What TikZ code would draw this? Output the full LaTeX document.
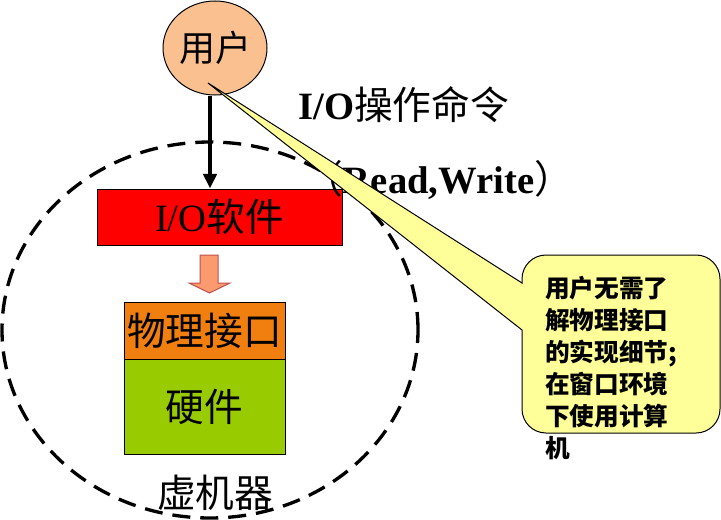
\documentclass[tikz,border=0pt]{standalone}
\usepackage{fontspec}
\setmainfont{Liberation Serif}
\newfontfamily\cjk{Noto Sans CJK SC}
\usetikzlibrary{shapes.geometric,arrows.meta}
\definecolor{peach}{HTML}{FAC090}
\definecolor{iored}{HTML}{FF0000}
\definecolor{physor}{HTML}{F07F0F}
\definecolor{hwgreen}{HTML}{99CC00}
\definecolor{notey}{HTML}{FFFF99}
\definecolor{blockfill}{HTML}{FA9A6E}
\definecolor{blockline}{HTML}{C0504D}
\tikzset{
  box/.style={draw=black, line width=0.75pt, inner sep=0pt},
  big/.style={font=\fontsize{29}{35}\selectfont},
  ring/.style={draw=black, line width=2.5pt, dash pattern=on 13.5pt off 7.5pt},
  arr/.style={draw=black, line width=3pt, -{Triangle[length=11pt,width=10pt]}},
  blockarrow/.style={fill=blockfill, draw=blockline, line width=0.75pt},
  callout/.style={fill=notey, draw=black, line width=0.75pt},
}
\begin{document}
\begin{tikzpicture}[x=0.75pt,y=0.75pt]
\useasboundingbox (0,0) rectangle (721,519);
% virtual machine ring
\node[ellipse, ring, minimum width=312pt, minimum height=282pt, inner sep=0pt] (vm) at (210,189) {};
\node[big, inner sep=0pt] (vmlabel) at (215,26) {\cjk 虚机器};
% user
\node[ellipse, box, fill=peach, minimum width=78pt, minimum height=70.5pt] (user) at (215,471) {\cjk\fontsize{27}{32}\selectfont 用户};
% boxes
\node[box, fill=iored, minimum width=183.75pt, minimum height=42pt, big] (iosw) at (219.5,302) {I/O{\cjk 软件}};
\node[box, fill=physor, minimum width=120.75pt, minimum height=42.75pt, big] (phys) at (204.5,188.5) {\cjk 物理接口};
\node[box, fill=hwgreen, minimum width=120.75pt, minimum height=71.25pt, big] (hw) at (204.5,112.5) {\cjk 硬件};
% arrow user -> io software
\coordinate (ax) at (210,0);
\draw[arr] (user.south -| ax) -- (iosw.north -| ax);
% block arrow io software -> physical interface
\draw[blockarrow] (200,264) -- (218,264) -- (218,236) -- (230,236) -- (209.5,226) -- (189,236) -- (200,236) -- cycle;
% labels
\node[big, anchor=west, inner sep=0pt] (cmd) at (298,414) {{\bfseries I/O}{\cjk 操作命令}};
\node[big, anchor=west, inner sep=0pt] (rw) at (304,339) {{\cjk （}{\bfseries Read,Write}{\cjk ）}};
% callout
\coordinate (tip) at (208,436);
\draw[callout] (522,236) -- (522,240) arc[start angle=180,end angle=90,radius=24]
  -- (696,264) arc[start angle=90,end angle=0,radius=24]
  -- (720,110) arc[start angle=0,end angle=-90,radius=24]
  -- (546,86) arc[start angle=270,end angle=180,radius=24]
  -- (522,189) -- (tip) -- cycle;
\node[anchor=north west, inner sep=0pt, align=left, font=\cjk\bfseries\fontsize{18.5}{24}\selectfont] (note) at (545,243) {用户无需了\\解物理接口\\的实现细节;\\在窗口环境\\下使用计算\\机};
\end{tikzpicture}
\end{document}
